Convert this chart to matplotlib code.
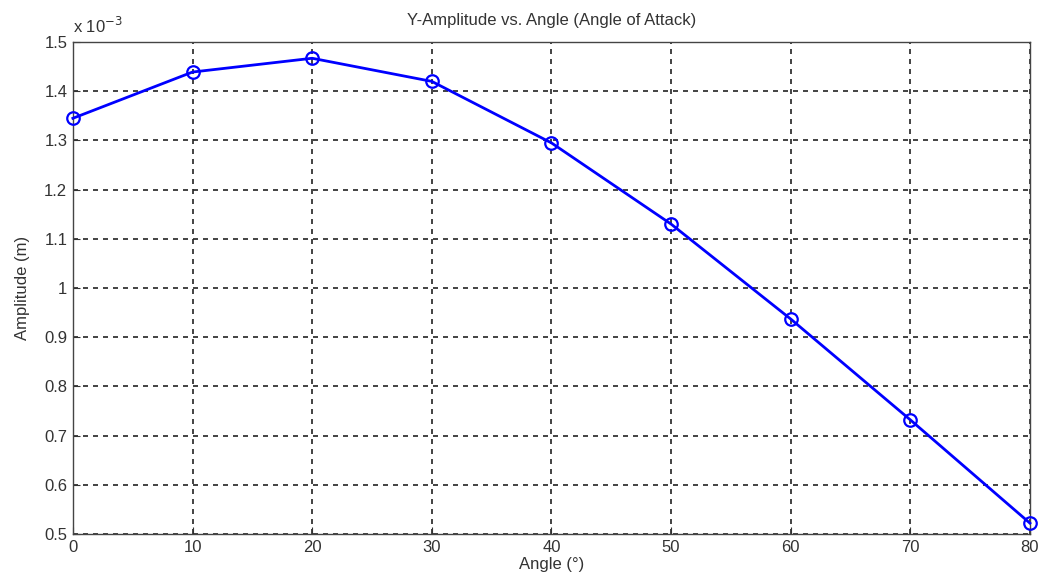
import matplotlib
matplotlib.use("Agg")
import matplotlib.pyplot as plt

angles = [0, 10, 20, 30, 40, 50, 60, 70, 80]
amplitude_e3 = [1.345, 1.439, 1.467, 1.420, 1.295, 1.130, 0.937, 0.732, 0.522]
yticks = [0.5, 0.6, 0.7, 0.8, 0.9, 1.0, 1.1, 1.2, 1.3, 1.4, 1.5]
ytick_labels = ["0.5", "0.6", "0.7", "0.8", "0.9", "1", "1.1", "1.2", "1.3", "1.4", "1.5"]
xticks = [0, 10, 20, 30, 40, 50, 60, 70, 80]

plt.rcParams['font.family'] = ['Liberation Sans', 'DejaVu Sans']

fig = plt.figure(figsize=(10.41, 5.87), dpi=100)
ax = fig.add_axes([0.070, 0.0903, 0.9194, 0.8381])
ax.plot(angles, amplitude_e3, color='#0000ff', linewidth=2, marker='o',
        markersize=9, markerfacecolor='none', markeredgewidth=1.6, clip_on=False, zorder=3)
ax.set_xlim(0, 80)
ax.set_ylim(0.5, 1.5)
ax.set_xticks(xticks)
ax.set_yticks(yticks)
ax.set_yticklabels(ytick_labels)
ax.grid(True, color='#222222', linestyle=(0, (3, 3)), linewidth=1.2)
ax.tick_params(direction='in', length=5, labelsize=12, colors='#333333', pad=4)
for s in ax.spines.values():
    s.set_color('#444444')
    s.set_linewidth(1.0)
ax.set_title('Y-Amplitude vs. Angle (Angle of Attack)', fontsize=12, color='#333333', pad=12)
ax.set_xlabel('Angle (°)', fontsize=12, color='#333333', labelpad=2)
ax.set_ylabel('Amplitude (m)', fontsize=12, color='#333333', labelpad=10)
ax.text(0.0, 1.012, 'x 10$^{-3}$', transform=ax.transAxes, fontsize=12, color='#333333',
        ha='left', va='bottom')
fig.savefig('out.png', dpi=100)
